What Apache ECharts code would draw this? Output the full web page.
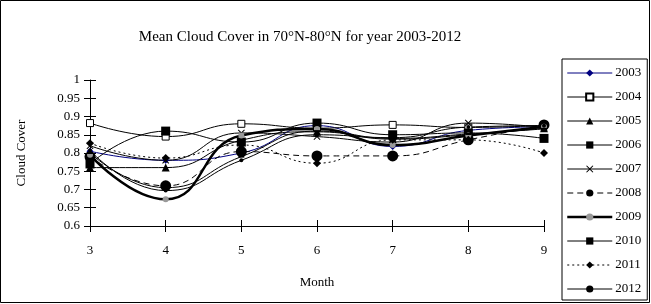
<!DOCTYPE html>
<html>
<head>
<meta charset="utf-8">
<title>Mean Cloud Cover</title>
<script src="https://cdn.jsdelivr.net/npm/echarts@6/dist/echarts.min.js"></script>
<style>
  html, body { margin: 0; padding: 0; background: #fff; }
  #main { width: 651px; height: 304px; }
</style>
</head>
<body>
<div id="main"></div>
<script type="text/javascript">
    // months on the x axis
    var months = ['3', '4', '5', '6', '7', '8', '9'];
    var years = ['2003', '2004', '2005', '2006', '2007', '2008', '2009', '2010', '2011', '2012'];

    // cloud cover per year, months 3..9
    var y2003 = [0.805, 0.780, 0.800, 0.875, 0.818, 0.862, 0.872];
    var y2004 = [0.882, 0.845, 0.880, 0.868, 0.877, 0.870, 0.876];
    var y2005 = [0.760, 0.760, 0.835, 0.858, 0.838, 0.850, 0.868];
    var y2006 = [0.770, 0.860, 0.830, 0.882, 0.850, 0.855, 0.840];
    var y2007 = [0.820, 0.780, 0.855, 0.845, 0.830, 0.882, 0.870];
    var y2008 = [0.790, 0.710, 0.804, 0.792, 0.792, 0.836, 0.877];
    var y2009 = [0.795, 0.673, 0.848, 0.866, 0.822, 0.848, 0.872];
    var y2010 = [0.800, 0.705, 0.790, 0.860, 0.840, 0.852, 0.866];
    var y2011 = [0.827, 0.786, 0.822, 0.772, 0.836, 0.836, 0.800];
    var y2012 = [0.807, 0.697, 0.780, 0.850, 0.842, 0.871, 0.875];

    var myChart = echarts.init(document.getElementById('main'));
    var serif = 'Liberation Serif';

    function line(name, data, symbol, size, opts) {
        var s = {
            name: name,
            type: 'line',
            data: data,
            smooth: 0.5,
            symbol: symbol,
            symbolSize: size,
            showAllSymbol: true,
            color: '#000',
            lineStyle: { color: '#000', width: 1, type: 'solid' },
            itemStyle: { color: '#000' },
            emphasis: { disabled: true },
            z: 3
        };
        if (opts) {
            if (opts.lineStyle) Object.assign(s.lineStyle, opts.lineStyle);
            if (opts.itemStyle) Object.assign(s.itemStyle, opts.itemStyle);
            if (opts.color) s.color = opts.color;
        }
        return s;
    }

    var xMark = 'path://M0,1L1,0L5,4L9,0L10,1L6,5L10,9L9,10L5,6L1,10L0,9L4,5Z';

    // legend entries; 2009 keeps its thick line
    var legendData = years.map(function (y) {
        return y === '2009' ? { name: y, lineStyle: { width: 2.5 } } : { name: y };
    });

    var option = {
        animation: false,
        backgroundColor: '#fff',
        textStyle: { fontFamily: serif },
        graphic: [{
            type: 'rect',
            shape: { x: 0.5, y: 0.5, width: 649, height: 302 },
            style: { fill: 'none', stroke: '#000', lineWidth: 1 },
            silent: true
        }],
        title: {
            text: 'Mean Cloud Cover in 70°N-80°N for year 2003-2012',
            left: 295,
            textAlign: 'center',
            top: 25,
            textStyle: { fontFamily: serif, fontSize: 15, fontWeight: 'normal', color: '#000' }
        },
        legend: {
            orient: 'vertical',
            left: 562,
            top: 59,
            width: 88,
            padding: [7, 6, 4, 4],
            itemWidth: 45,
            itemHeight: 9,
            itemGap: 10,
            borderColor: '#000',
            borderWidth: 1,
            lineStyle: { width: 1 },
            data: legendData,
            textStyle: { fontFamily: serif, fontSize: 13, lineHeight: 14, color: '#000', padding: [0, 0, 0, -2] }
        },
        grid: { left: 90, right: 107, top: 80, bottom: 78 },
        xAxis: [{
            type: 'category',
            data: months,
            boundaryGap: false,
            name: 'Month',
            nameLocation: 'middle',
            nameGap: 50,
            nameTextStyle: { fontFamily: serif, fontSize: 13, color: '#000' },
            axisLine: { lineStyle: { color: '#000' } },
            axisTick: { show: true, length: 6, lineStyle: { color: '#000' } },
            axisLabel: { fontFamily: serif, fontSize: 13, color: '#000', margin: 18 },
            splitLine: { show: false }
        }, {
            // inner half of the cross ticks
            type: 'category',
            data: months,
            boundaryGap: false,
            position: 'bottom',
            axisLine: { show: false },
            axisTick: { show: true, inside: true, length: 6, lineStyle: { color: '#000' } },
            axisLabel: { show: false },
            splitLine: { show: false }
        }],
        yAxis: [{
            type: 'value',
            min: 0.6,
            max: 1,
            interval: 0.05,
            name: 'Cloud Cover',
            nameLocation: 'middle',
            nameRotate: 90,
            nameGap: 62,
            nameTextStyle: { fontFamily: serif, fontSize: 13, color: '#000' },
            axisLine: { show: true, lineStyle: { color: '#000' } },
            axisTick: { show: true, length: 6, lineStyle: { color: '#000' } },
            axisLabel: { fontFamily: serif, fontSize: 13, color: '#000', margin: 10 },
            splitLine: { show: false }
        }, {
            // inner half of the cross ticks
            type: 'value',
            position: 'left',
            min: 0.6,
            max: 1,
            interval: 0.05,
            axisLine: { show: false },
            axisTick: { show: true, inside: true, length: 6, lineStyle: { color: '#000' } },
            axisLabel: { show: false },
            splitLine: { show: false }
        }],
        series: [
            line('2003', y2003, 'diamond', 7, { color: '#000080', lineStyle: { color: '#000080' }, itemStyle: { color: '#000080' } }),
            line('2004', y2004, 'rect', 7, { itemStyle: { color: '#fff', borderColor: '#000', borderWidth: 1 } }),
            line('2005', y2005, 'triangle', 8),
            line('2006', y2006, 'rect', 9),
            line('2007', y2007, xMark, 7),
            line('2008', y2008, 'circle', 11, { lineStyle: { type: [6, 4] } }),
            line('2009', y2009, 'circle', 6, { lineStyle: { width: 2.5 }, itemStyle: { color: '#999' } }),
            line('2010', y2010, 'rect', [6, 2]),
            line('2011', y2011, 'diamond', 8, { lineStyle: { type: [2, 3] } }),
            line('2012', y2012, 'circle', 4)
        ]
    };

    myChart.setOption(option);
</script>
</body>
</html>
